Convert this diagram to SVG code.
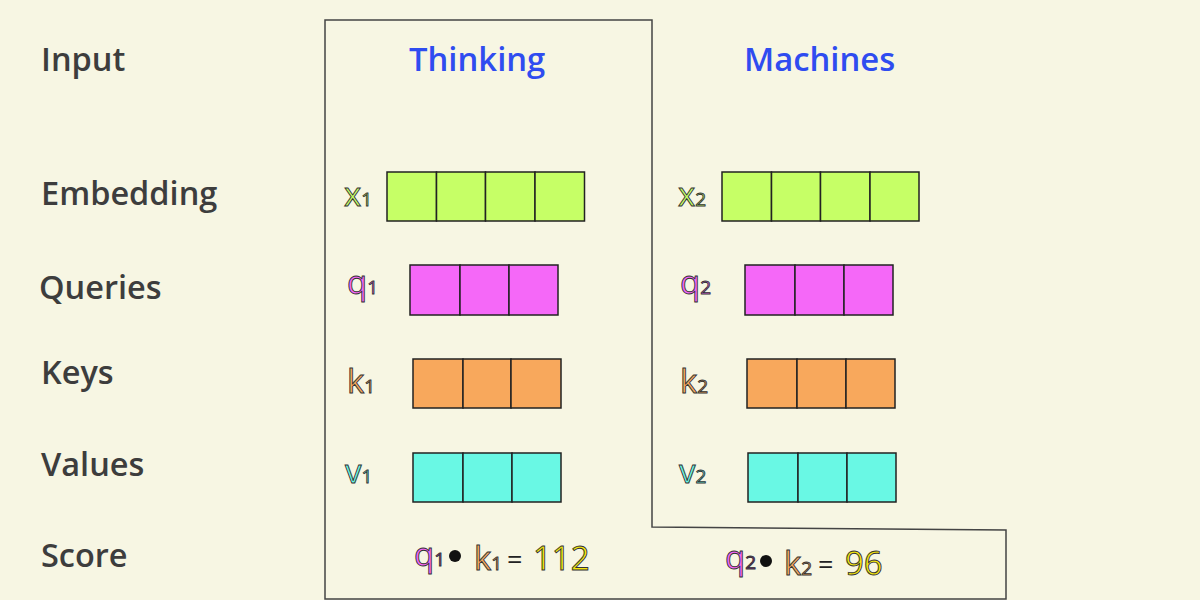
<svg xmlns="http://www.w3.org/2000/svg" width="1200" height="600" viewBox="0 0 1200 600">
<style>
.lbl{font-family:"Open Sans","Liberation Sans",sans-serif;font-weight:600;font-size:32.5px;fill:#3d3d3d}
.word{font-family:"Open Sans","Liberation Sans",sans-serif;font-weight:600;font-size:32.8px;fill:#2f4cf0}
.v{font-family:"Open Sans","Liberation Sans",sans-serif;font-size:33px;stroke:#333;stroke-width:0.9}
.sub{font-size:19px}
.cell{stroke:#222;stroke-width:1.5}
.x{fill:#c6ff66}.q{fill:#f568f8}.k{fill:#f8a85c}.vv{fill:#69f8e4}.y{fill:#f5e60e}
.eq{font-family:"Open Sans","Liberation Sans",sans-serif;font-size:27px;fill:#222}
</style>
<rect width="1200" height="600" fill="#f7f6e3"/>
<g id="connectors">
<path d="M325,20 H652 V527 L1006,530 V599 H325 Z" fill="none" stroke="#444" stroke-width="1.5"/>
</g>
<g id="row-labels">
<text class="lbl" x="41" y="71">Input</text>
<text class="lbl" x="41" y="205">Embedding</text>
<text class="lbl" x="39" y="299">Queries</text>
<text class="lbl" x="41" y="384">Keys</text>
<text class="lbl" x="41" y="476">Values</text>
<text class="lbl" x="41" y="567">Score</text>
</g>
<g id="word-thinking"><text class="word" x="409" y="71">Thinking</text></g>
<g id="word-machines"><text class="word" x="744" y="71">Machines</text></g>
<g id="x1">
<text class="v x" x="344" y="206">x<tspan class="sub">1</tspan></text>
<rect class="cell x" x="387" y="172" width="49.5" height="49"/><rect class="cell x" x="436.5" y="172" width="49" height="49"/><rect class="cell x" x="485.5" y="172" width="49.5" height="49"/><rect class="cell x" x="535" y="172" width="49.5" height="49"/>
</g>
<g id="x2">
<text class="v x" x="678" y="206">x<tspan class="sub">2</tspan></text>
<rect class="cell x" x="722" y="172" width="49.5" height="49"/><rect class="cell x" x="771.5" y="172" width="49" height="49"/><rect class="cell x" x="820.5" y="172" width="49.5" height="49"/><rect class="cell x" x="870" y="172" width="49" height="49"/>
</g>
<g id="q1">
<text class="v q" x="347" y="294">q<tspan class="sub">1</tspan></text>
<rect class="cell q" x="410" y="265" width="50" height="50"/><rect class="cell q" x="460" y="265" width="49" height="50"/><rect class="cell q" x="509" y="265" width="49" height="50"/>
</g>
<g id="q2">
<text class="v q" x="680" y="294">q<tspan class="sub">2</tspan></text>
<rect class="cell q" x="745" y="265" width="50" height="50"/><rect class="cell q" x="795" y="265" width="49" height="50"/><rect class="cell q" x="844" y="265" width="49" height="50"/>
</g>
<g id="k1">
<text class="v k" x="347" y="393">k<tspan class="sub">1</tspan></text>
<rect class="cell k" x="413" y="359" width="50" height="49"/><rect class="cell k" x="463" y="359" width="48" height="49"/><rect class="cell k" x="511" y="359" width="50" height="49"/>
</g>
<g id="k2">
<text class="v k" x="680" y="393">k<tspan class="sub">2</tspan></text>
<rect class="cell k" x="747" y="359" width="50" height="49"/><rect class="cell k" x="797" y="359" width="49" height="49"/><rect class="cell k" x="846" y="359" width="49" height="49"/>
</g>
<g id="v1">
<text class="v vv" x="345" y="483">v<tspan class="sub">1</tspan></text>
<rect class="cell vv" x="413" y="453" width="50" height="49"/><rect class="cell vv" x="463" y="453" width="49" height="49"/><rect class="cell vv" x="512" y="453" width="49" height="49"/>
</g>
<g id="v2">
<text class="v vv" x="679" y="483">v<tspan class="sub">2</tspan></text>
<rect class="cell vv" x="748" y="453" width="50" height="49"/><rect class="cell vv" x="798" y="453" width="49" height="49"/><rect class="cell vv" x="847" y="453" width="49" height="49"/>
</g>
<g id="score1">
<text class="v q" x="414" y="566">q<tspan class="sub" fill="#a03aa8">1</tspan></text>
<circle cx="455" cy="556" r="6" fill="#111"/>
<text class="v k" x="474" y="570">k<tspan class="sub">1</tspan></text>
<text class="eq" x="507" y="569">=</text>
<text class="v y" x="533" y="570" font-size="36">112</text>
</g>
<g id="score2">
<text class="v q" x="725" y="569">q<tspan class="sub" fill="#7a2d82">2</tspan></text>
<circle cx="766" cy="561" r="6" fill="#111"/>
<text class="v k" x="784" y="575">k<tspan class="sub">2</tspan></text>
<text class="eq" x="818" y="574">=</text>
<text class="v y" x="845" y="575" font-size="36">96</text>
</g>
</svg>
